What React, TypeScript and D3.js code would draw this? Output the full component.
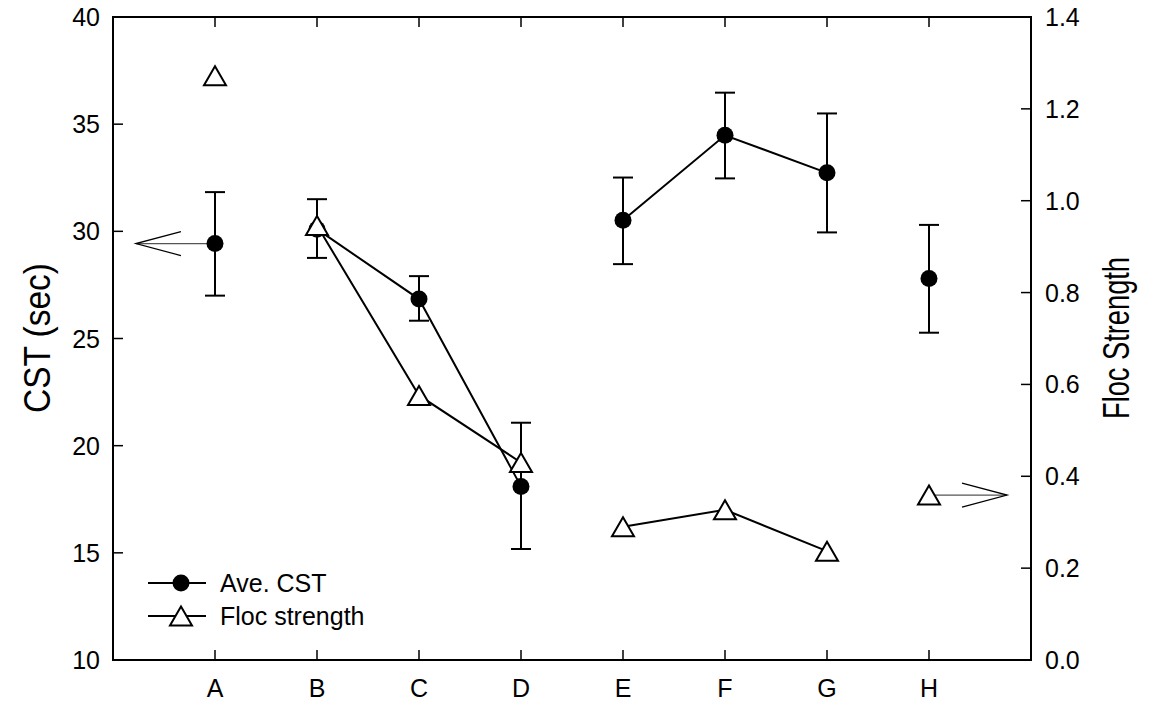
import React from 'react';
import * as d3 from 'd3';

// categories along the x axis
const categories = ['A', 'B', 'C', 'D', 'E', 'F', 'G', 'H'];
// which points are joined by a line
const segmentIds = [1, 2, 2, 2, 3, 3, 3, 4];

// Ave. CST (sec), left axis
const cstMean = [29.43, 30.1, 26.84, 18.1, 30.52, 34.48, 32.73, 27.8];
const cstUpper = [31.83, 31.5, 27.91, 21.07, 32.51, 36.47, 35.5, 30.3];
const cstLower = [27.0, 28.76, 25.83, 15.18, 28.47, 32.47, 29.95, 25.27];

// Floc strength, right axis
const flocStrength = [1.272, 0.946, 0.576, 0.43, 0.29, 0.327, 0.237, 0.359];

const leftTicks = [10, 15, 20, 25, 30, 35, 40];
const rightTicks = [0, 0.2, 0.4, 0.6, 0.8, 1.0, 1.2, 1.4];

const W = 1157;
const H = 707;
const margin = { top: 17, right: 126, bottom: 47, left: 113 };
const FONT = '"Liberation Sans", Arial, sans-serif';

const App = () => {
  const x = d3.scaleLinear().domain([0, categories.length + 1]).range([margin.left, W - margin.right]);
  const yL = d3.scaleLinear().domain([10, 40]).range([H - margin.bottom, margin.top]);
  const yR = d3.scaleLinear().domain([0, 1.4]).range([H - margin.bottom, margin.top]);

  const idx = categories.map((_, i) => i);
  const groups = d3.groups(idx, i => segmentIds[i]).map(g => g[1]);

  const cstLine = d3.line<number>().x(i => x(i + 1)).y(i => yL(cstMean[i]));
  const flocLine = d3.line<number>().x(i => x(i + 1)).y(i => yR(flocStrength[i]));

  const tri = (cx: number, cy: number, s = 1) =>
    `M${cx},${cy - 9.5 * s}L${cx + 11 * s},${cy + 9.5 * s}L${cx - 11 * s},${cy + 9.5 * s}Z`;

  const x0 = x.range()[0];
  const x1 = x.range()[1];
  const y0 = yL.range()[0];
  const y1 = yL.range()[1];

  // annotation arrows: A points to the left axis, H to the right axis
  const aX = x(1), aY = yL(cstMean[0]), aTip = x(0.225);
  const hX = x(8), hY = yR(flocStrength[7]), hTip = x(8.765);

  return (
    <div style={{ position: 'absolute', left: 0, top: 0 }}>
      <svg width={W} height={H} style={{ display: 'block', background: '#fff' }} fontFamily={FONT}>
        {/* frame */}
        <rect x={x0} y={y1} width={x1 - x0} height={y0 - y1} fill="none" stroke="#000" strokeWidth={2} />

        {/* left ticks */}
        {leftTicks.map(t => (
          <g key={'l' + t}>
            <line x1={x0} x2={x0 + 10} y1={yL(t)} y2={yL(t)} stroke="#000" strokeWidth={1.5} />
            <text x={x0 - 13} y={yL(t)} dy="0.36em" textAnchor="end" fontSize={25}>{t}</text>
          </g>
        ))}
        {/* right ticks */}
        {rightTicks.map(t => (
          <g key={'r' + t}>
            <line x1={x1} x2={x1 - 10} y1={yR(t)} y2={yR(t)} stroke="#000" strokeWidth={1.5} />
            <text x={x1 + 14} y={yR(t)} dy="0.36em" textAnchor="start" fontSize={25}>{t.toFixed(1)}</text>
          </g>
        ))}
        {/* category ticks top and bottom */}
        {categories.map((c, i) => (
          <g key={'c' + c}>
            <line x1={x(i + 1)} x2={x(i + 1)} y1={y0} y2={y0 - 10} stroke="#000" strokeWidth={1.5} />
            <line x1={x(i + 1)} x2={x(i + 1)} y1={y1} y2={y1 + 10} stroke="#000" strokeWidth={1.5} />
            <text x={x(i + 1)} y={y0 + 37} textAnchor="middle" fontSize={25}>{c}</text>
          </g>
        ))}

        {/* axis titles */}
        <text transform={`translate(50,338) rotate(-90)`} textAnchor="middle" fontSize={36}
          textLength={150} lengthAdjust="spacingAndGlyphs">CST (sec)</text>
        <text transform={`translate(1129,338) rotate(-90)`} textAnchor="middle" fontSize={36}
          textLength={162} lengthAdjust="spacingAndGlyphs">Floc Strength</text>

        {/* lines */}
        {groups.filter(g => g.length > 1).map((g, k) => (
          <path key={'cl' + k} d={cstLine(g) || ''} fill="none" stroke="#000" strokeWidth={2} />
        ))}
        {groups.filter(g => g.length > 1).map((g, k) => (
          <path key={'fl' + k} d={flocLine(g) || ''} fill="none" stroke="#000" strokeWidth={2} />
        ))}

        {/* error bars */}
        {idx.map(i => (
          <g key={'e' + i} stroke="#000" strokeWidth={2}>
            <line x1={x(i + 1)} x2={x(i + 1)} y1={yL(cstUpper[i])} y2={yL(cstLower[i])} />
            <line x1={x(i + 1) - 10} x2={x(i + 1) + 10} y1={yL(cstUpper[i])} y2={yL(cstUpper[i])} />
            <line x1={x(i + 1) - 10} x2={x(i + 1) + 10} y1={yL(cstLower[i])} y2={yL(cstLower[i])} />
          </g>
        ))}

        {/* arrows */}
        <g stroke="#000" strokeWidth={1.3} fill="none">
          <line x1={aX} x2={aTip} y1={aY} y2={aY} stroke="#555" />
          <polyline points={`${aTip + 45},${aY - 12} ${aTip},${aY} ${aTip + 45},${aY + 12}`} />
          <line x1={hX} x2={hTip} y1={hY} y2={hY} stroke="#555" />
          <polyline points={`${hTip - 45},${hY - 12} ${hTip},${hY} ${hTip - 45},${hY + 12}`} />
        </g>

        {/* markers */}
        {idx.map(i => (
          <circle key={'d' + i} cx={x(i + 1)} cy={yL(cstMean[i])} r={8.5} fill="#000" />
        ))}
        {idx.map(i => (
          <path key={'t' + i} d={tri(x(i + 1), yR(flocStrength[i]))} fill="#fff" stroke="#000" strokeWidth={2} />
        ))}

        {/* legend */}
        <g>
          <line x1={148} x2={206} y1={583} y2={583} stroke="#000" strokeWidth={2} />
          <circle cx={181} cy={583} r={8.5} fill="#000" />
          <text x={220} y={583} dy="0.36em" fontSize={25}>Ave. CST</text>
          <line x1={148} x2={206} y1={616} y2={616} stroke="#000" strokeWidth={2} />
          <path d={tri(181, 616)} fill="#fff" stroke="#000" strokeWidth={2} />
          <text x={220} y={616} dy="0.36em" fontSize={25}>Floc strength</text>
        </g>
      </svg>
    </div>
  );
};

export default App;
